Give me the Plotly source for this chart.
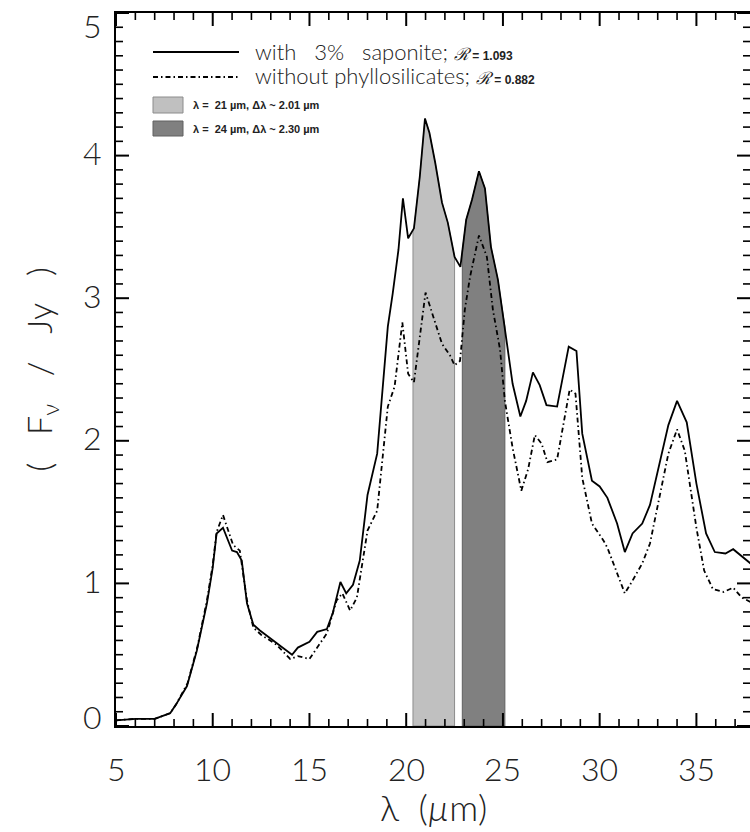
import numpy as np
import plotly.graph_objects as go

# ---------------- data ----------------
x_sap = [5.0, 6.0, 7.0, 7.8, 8.1, 8.4, 8.67, 9.18, 9.7, 10.0, 10.2, 10.53, 11.0, 11.25, 11.5,
         11.77, 12.1, 12.44, 13.3, 14.1, 14.4, 15.0, 15.4, 15.9, 16.2, 16.6, 16.9, 17.25, 17.6,
         18.0, 18.5, 19.05, 19.3, 19.6, 19.83, 20.1, 20.4, 20.7, 20.97, 21.2, 21.5, 21.85, 22.15,
         22.5, 22.8, 23.1, 23.4, 23.76, 24.07, 24.38, 24.74, 25.1, 25.5, 25.9, 26.2, 26.55, 26.9,
         27.25, 27.8, 28.4, 28.8, 29.1, 29.6, 30.0, 30.4, 30.9, 31.3, 31.7, 32.2, 32.6, 33.1,
         33.55, 34.0, 34.5, 35.0, 35.5, 35.95, 36.5, 36.9, 37.35, 37.8]
y_sap = [0.04, 0.05, 0.05, 0.09, 0.15, 0.22, 0.28, 0.53, 0.86, 1.11, 1.35, 1.39, 1.23, 1.22, 1.16,
         0.86, 0.71, 0.67, 0.58, 0.50, 0.55, 0.59, 0.66, 0.68, 0.79, 1.01, 0.93, 0.99, 1.16,
         1.62, 1.91, 2.80, 3.03, 3.34, 3.70, 3.42, 3.49, 3.85, 4.26, 4.16, 3.95, 3.67, 3.53,
         3.29, 3.22, 3.55, 3.69, 3.89, 3.77, 3.36, 3.13, 2.80, 2.40, 2.17, 2.28, 2.48, 2.39,
         2.25, 2.24, 2.66, 2.63, 2.05, 1.72, 1.68, 1.60, 1.42, 1.22, 1.35, 1.42, 1.55, 1.84,
         2.11, 2.28, 2.13, 1.70, 1.35, 1.22, 1.21, 1.24, 1.19, 1.14]

x_nophy = [5.0, 6.0, 7.0, 7.8, 8.1, 8.4, 8.7, 9.2, 9.7, 10.0, 10.2, 10.53, 10.75, 11.05, 11.4,
           11.77, 12.1, 12.5, 13.3, 14.0, 14.4, 15.0, 15.4, 15.9, 16.4, 16.7, 17.1, 17.45, 18.0,
           18.5, 19.05, 19.4, 19.8, 20.1, 20.4, 21.0, 21.4, 21.85, 22.26, 22.5, 22.78, 23.03, 23.3,
           23.76, 24.17, 24.48, 24.85, 25.1, 25.5, 25.95, 26.3, 26.65, 27.0, 27.3, 27.8, 28.2,
           28.45, 28.75, 29.1, 29.6, 30.2, 30.4, 30.9, 31.3, 31.7, 32.2, 32.6, 33.1, 33.55, 34.0,
           34.4, 35.0, 35.4, 35.85, 36.4, 36.9, 37.35, 37.8]
y_nophy = [0.04, 0.05, 0.05, 0.09, 0.15, 0.22, 0.30, 0.55, 0.88, 1.13, 1.36, 1.48, 1.39, 1.27, 1.23,
           0.88, 0.69, 0.64, 0.57, 0.47, 0.49, 0.47, 0.55, 0.65, 0.88, 0.93, 0.81, 0.90, 1.37,
           1.51, 2.24, 2.38, 2.83, 2.47, 2.41, 3.04, 2.87, 2.68, 2.60, 2.53, 2.56, 2.92, 3.15,
           3.44, 3.29, 2.92, 2.64, 2.28, 1.95, 1.65, 1.80, 2.04, 1.98, 1.85, 1.87, 2.18,
           2.36, 2.33, 1.74, 1.42, 1.30, 1.25, 1.07, 0.93, 1.02, 1.14, 1.28, 1.61, 1.91, 2.08,
           1.93, 1.39, 1.09, 0.96, 0.94, 0.97, 0.90, 0.87]

band_lo = [20.35, 22.9]
band_hi = [22.5, 25.1]
band_fill = ["#c0c0c0", "#808080"]
band_edge = ["#8c8c8c", "#606060"]
band_labels = ["λ =  21 µm, Δλ ~ 2.01 µm", "λ =  24 µm, Δλ ~ 2.30 µm"]

series_labels = ["with 3% saponite;", "without phyllosilicates;"]
r_values = ["1.093", "0.882"]

x_ticks = [5, 10, 15, 20, 25, 30, 35]
y_ticks = [0, 1, 2, 3, 4, 5]
x_minor_step = 1
y_minor_step = 0.1
x_range = [5, 37.77]
y_range = [0, 5]

# ---------------- layout geometry (pixels) ----------------
W, H = 750, 832
ML, MR, MT, MB = 116, 0, 13, 106
PW, PH = W - ML - MR, H - MT - MB
MAJOR_LEN, MINOR_LEN = 13, 7


def px2x(px):
    return (px - ML) / PW


def px2y(py):
    return (H - MB - py) / PH


fig = go.Figure()

# shaded bands under the saponite curve
for lo, hi, fc, ec in zip(band_lo, band_hi, band_fill, band_edge):
    xs = np.array(x_sap)
    ys = np.array(y_sap)
    m = (xs > lo) & (xs < hi)
    bx = [lo, lo] + list(xs[m]) + [hi, hi, lo]
    by = [0, float(np.interp(lo, xs, ys))] + list(ys[m]) + [float(np.interp(hi, xs, ys)), 0, 0]
    fig.add_trace(go.Scatter(x=bx, y=by, mode="lines", fill="toself", fillcolor=fc,
                             line=dict(color=ec, width=1), hoverinfo="skip", showlegend=False))

fig.add_trace(go.Scatter(x=x_nophy, y=y_nophy, mode="lines",
                         line=dict(color="black", width=1.8, dash="5px,3px,1.5px,3px"),
                         showlegend=False))
fig.add_trace(go.Scatter(x=x_sap, y=y_sap, mode="lines",
                         line=dict(color="black", width=1.8), showlegend=False))


# inward tick marks on all four sides, drawn on the axes' own data scale
def minor_values(rng, step, majors):
    vals = np.arange(rng[0], rng[1] + 1e-9, step)
    return [float(v) for v in vals if min(abs(v - mj) for mj in majors) > step / 2]


def tick_trace(xvals, yvals, ln_px, width):
    dy = ln_px / PH * (y_range[1] - y_range[0])
    dx = ln_px / PW * (x_range[1] - x_range[0])
    tx, ty = [], []
    for v in xvals:
        tx += [v, v, None, v, v, None]
        ty += [y_range[0], y_range[0] + dy, None, y_range[1], y_range[1] - dy, None]
    for v in yvals:
        tx += [x_range[0], x_range[0] + dx, None, x_range[1], x_range[1] - dx, None]
        ty += [v, v, None, v, v, None]
    return go.Scatter(x=tx, y=ty, mode="lines", line=dict(color="black", width=width),
                      hoverinfo="skip", showlegend=False, cliponaxis=False)


fig.add_trace(tick_trace(x_ticks, y_ticks, MAJOR_LEN, 2.0))
fig.add_trace(tick_trace(minor_values(x_range, x_minor_step, x_ticks),
                         minor_values(y_range, y_minor_step, y_ticks), MINOR_LEN, 1.6))

fig.update_layout(
    xaxis=dict(range=x_range, ticks="", showticklabels=False,
               showline=True, linecolor="black", linewidth=1.6, mirror=True,
               showgrid=False, zeroline=False),
    yaxis=dict(range=y_range, ticks="", showticklabels=False,
               showline=True, linecolor="black", linewidth=1.6, mirror=True,
               showgrid=False, zeroline=False),
)

shapes = []
annotations = []
lab_font = dict(family="Lato", size=32, color="#222", weight=300)

# x tick labels
for v in x_ticks:
    annotations.append(dict(xref="x", yref="paper", x=v, y=px2y(768), xanchor="center",
                            yanchor="middle", showarrow=False, text=str(v), font=lab_font))

# y tick labels (end labels nudged inward, as in the reference)
for v in y_ticks:
    shift = -12 if v == y_range[1] else (10 if v == y_range[0] else 3)
    annotations.append(dict(xref="paper", yref="y", x=px2x(104), y=v, yshift=shift,
                            xanchor="right", yanchor="middle", showarrow=False, text=str(v),
                            font=lab_font))

# legend: line samples + text
leg_y = [51, 76]
leg_dash = ["solid", "5px,3px,1.5px,3px"]
NB = "\u00a0"
for lab, rv, yy, dsh in zip(series_labels, r_values, leg_y, leg_dash):
    shapes.append(dict(type="line", xref="paper", yref="paper", x0=px2x(153), x1=px2x(239),
                       y0=px2y(yy + 1), y1=px2y(yy + 1), line=dict(color="black", width=1.8, dash=dsh)))
    words = lab.split(" ")
    gap = (" " + NB + NB) if len(words) > 2 else " "
    txt = (gap.join(words) +
           f" <span style='font-family:DejaVu Serif;font-size:17px'><i>ℛ</i></span>"
           f"<span style='font-family:Liberation Sans;font-size:12px'><b> = {rv}</b></span>")
    annotations.append(dict(xref="paper", yref="paper", x=px2x(253), y=px2y(yy),
                            xanchor="left", yanchor="middle", showarrow=False, text=txt,
                            font=dict(family="Lato", size=22, color="#222", weight=300)))

# legend: band boxes
box_y = [(97, 113), (121, 136)]
for (y0, y1), fc, ec, lab in zip(box_y, band_fill, band_edge, band_labels):
    shapes.append(dict(type="rect", xref="paper", yref="paper", x0=px2x(153), x1=px2x(183),
                       y0=px2y(y1), y1=px2y(y0), fillcolor=fc, line=dict(color=ec, width=1)))
    annotations.append(dict(xref="paper", yref="paper", x=px2x(191), y=px2y((y0 + y1) / 2),
                            xanchor="left", yanchor="middle", showarrow=False,
                            text=f"<b>{lab}</b>",
                            font=dict(family="Liberation Sans", size=11, color="#222")))

# axis titles
annotations.append(dict(xref="paper", yref="paper", x=0.5, y=px2y(807), xanchor="center",
                        yanchor="middle", showarrow=False, text="λ  (<i>µ</i>m)",
                        font=dict(family="Lato", size=36, color="#222", weight=300)))
annotations.append(dict(xref="paper", yref="paper", x=px2x(40), y=0.5, xanchor="center",
                        yanchor="middle", showarrow=False, textangle=-90,
                        text="(   F<sub>ν</sub>   /   Jy   )",
                        font=dict(family="Lato", size=34, color="#222", weight=300)))

fig.update_layout(width=W, height=H, margin=dict(l=ML, r=MR, t=MT, b=MB, autoexpand=False),
                  plot_bgcolor="rgba(0,0,0,0)", paper_bgcolor="white", shapes=shapes,
                  annotations=annotations, showlegend=False)

fig.write_html("out.html")
